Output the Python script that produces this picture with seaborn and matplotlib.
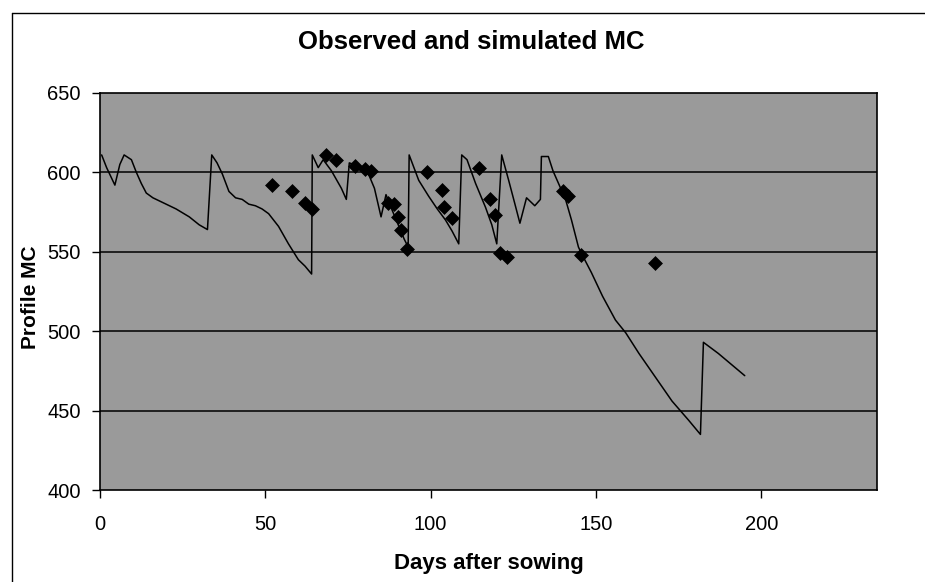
import matplotlib
matplotlib.use('Agg')
import matplotlib.pyplot as plt
from matplotlib.lines import Line2D
import seaborn as sns

###############################################################################

# simulated profile moisture content (line)
sim_day = [0.5, 2, 4.5, 6, 7.3, 9.5, 11, 12.5, 14, 16, 19, 23, 27, 30, 32.5,
           33.8, 35.4, 37, 39, 41, 43, 45, 47, 49, 51, 54, 57, 60, 62, 64,
           64.2, 66, 67.5, 70, 73, 74.5, 75.4, 78, 81, 83, 85, 86.5, 88, 90,
           92, 93.2, 93.5, 96.4, 99.4, 102, 104.5, 106.5, 108.5, 109.4, 111,
           113.6, 116.6, 118.5, 120, 121.5, 123.6, 125.5, 127, 129, 131.5,
           133.2, 133.5, 135.6, 137, 140.8, 142.6, 144.7, 145.6, 148.6, 152,
           155.9, 159, 163, 168, 173, 178, 181.6, 182.5, 187, 195]
sim_mc = [611, 603, 592, 605, 611, 608, 600, 593, 587, 584, 581, 577, 572,
          567, 564, 611, 606, 599, 588, 584, 583, 580, 579, 577, 574, 566,
          555, 545, 541, 536, 611, 603, 608, 601, 590, 583, 606, 604, 600,
          590, 572, 586, 578, 568, 558, 553, 611, 595, 585, 577, 570, 563,
          555, 611, 608, 593, 578, 567, 555, 611, 595, 580, 568, 584, 579,
          583, 610, 610, 601, 583, 570, 553, 549, 537, 522, 507, 499, 486,
          471, 456, 444, 435, 493, 486, 472]

# observed profile moisture content (diamonds)
obs_day = [52, 58, 62, 64, 68.5, 71.5, 77, 80, 82, 87, 89, 90, 91, 93, 99,
           103.5, 104, 106.5, 114.5, 118, 119.5, 121, 123, 140, 141.5, 145.6,
           168]
obs_mc = [592, 588, 581, 577, 611, 608, 604, 602, 601, 581, 580, 572, 564,
          552, 600, 589, 578, 571, 603, 583, 573, 549, 547, 588, 585, 548,
          543]

###############################################################################

if __name__ == "__main__":

    sns.set_theme(style='ticks')
    plt.rcParams['font.family'] = ['Liberation Sans', 'DejaVu Sans']
    plt.rcParams['text.color'] = 'black'

    fig = plt.figure(figsize=(9.25, 5.82), dpi=100)
    ax = fig.add_axes([100 / 925, 1 - 490 / 582, 777 / 925, 397 / 582])
    ax.set_facecolor('#9a9a9a')

    for yy in [450, 500, 550, 600]:
        ax.axhline(yy, color='black', lw=1.1, zorder=1)

    sns.lineplot(x=sim_day, y=sim_mc, sort=False, estimator=None,
                 color='black', lw=1.1, ax=ax, zorder=2)
    sns.scatterplot(x=obs_day, y=obs_mc, marker='D', s=50, color='black',
                    edgecolor='black', linewidth=0.5, ax=ax, zorder=3)

    ax.set_xlim(0, 235)
    ax.set_ylim(400, 650)
    ax.set_xticks([0, 50, 100, 150, 200])
    ax.set_yticks([400, 450, 500, 550, 600, 650])
    ax.tick_params(axis='both', direction='out', length=6, width=1,
                   color='black', labelcolor='black', labelsize=14.5)
    ax.tick_params(axis='x', pad=12)
    ax.tick_params(axis='y', pad=8)
    for sp in ax.spines.values():
        sp.set_visible(True)
        sp.set_color('black')
        sp.set_linewidth(1.2)

    fig.text(471 / 925, 1 - 42 / 582, 'Observed and simulated MC',
             ha='center', va='center', fontsize=18.5, fontweight='bold',
             color='black')
    fig.text(489 / 925, 1 - 563 / 582, 'Days after sowing',
             ha='center', va='center', fontsize=16, fontweight='bold',
             color='black')
    fig.text(30 / 925, 1 - 297 / 582, 'Profile MC', rotation=90,
             ha='center', va='center', fontsize=15, fontweight='bold',
             color='black')

    # outer chart border (top and left only, as in the scan)
    fig.add_artist(Line2D([12 / 925, 1], [1 - 13 / 582, 1 - 13 / 582],
                          transform=fig.transFigure, color='black', lw=1))
    fig.add_artist(Line2D([12 / 925, 12 / 925], [0, 1 - 13 / 582],
                          transform=fig.transFigure, color='black', lw=1))

    fig.savefig('out.png', dpi=100)
